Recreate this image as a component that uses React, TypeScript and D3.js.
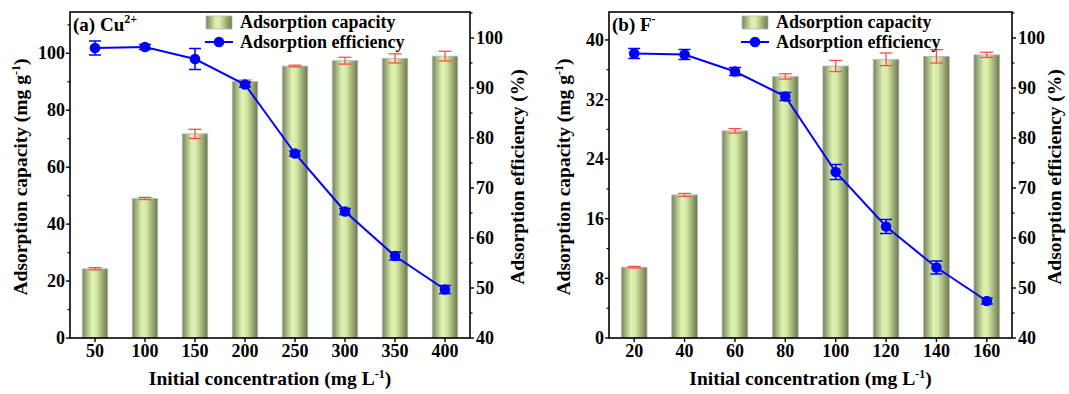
import React from 'react';
import * as d3 from 'd3';

// Cu2+ panel
const cuConcentrations = ['50', '100', '150', '200', '250', '300', '350', '400'];
const cuCapacity = [24.3, 49.0, 71.7, 90.1, 95.5, 97.4, 98.2, 99.0];
const cuCapacityErr = [0.4, 0.4, 1.6, 0.5, 0.3, 1.2, 1.6, 1.7];
const cuEfficiency = [98.0, 98.2, 95.8, 90.7, 76.9, 65.3, 56.4, 49.7];
const cuEfficiencyErr = [1.4, 0.5, 2.1, 0.5, 0.5, 0.6, 0.8, 0.8];
const cuCapacityTicks = [0, 20, 40, 60, 80, 100];

// F- panel
const fConcentrations = ['20', '40', '60', '80', '100', '120', '140', '160'];
const fCapacity = [9.5, 19.2, 27.8, 35.1, 36.5, 37.4, 37.8, 38.0];
const fCapacityErr = [0.1, 0.2, 0.3, 0.35, 0.75, 0.85, 0.9, 0.35];
const fEfficiency = [96.9, 96.7, 93.3, 88.3, 73.2, 62.3, 54.1, 47.4];
const fEfficiencyErr = [1.0, 1.0, 0.8, 0.8, 1.5, 1.4, 1.3, 0.6];
const fCapacityTicks = [0, 8, 16, 24, 32, 40];

const efficiencyTicks = [40, 50, 60, 70, 80, 90, 100];

const FONT = '"Liberation Serif", "Times New Roman", serif';
const TOP = 12;
const BOTTOM = 338;
const TICK_FS = 18;
const TITLE_FS = 19.5;
const LEGEND_FS = 18;

type PanelProps = {
  id: string;
  left: number;
  right: number;
  categories: string[];
  capacity: number[];
  capacityErr: number[];
  efficiency: number[];
  efficiencyErr: number[];
  capMax: number;
  capTicks: number[];
  label: string;
  sup: string;
  legendX: number;
  leftTitleX: number;
  rightTitleX: number;
};

function Panel(p: PanelProps) {
  const x = d3.scaleBand<string>().domain(p.categories).range([p.left, p.right]).paddingInner(0.49).paddingOuter(0.245);
  const yCap = d3.scaleLinear().domain([0, p.capMax]).range([BOTTOM, TOP]);
  const yEff = d3.scaleLinear().domain([40, 105.2]).range([BOTTOM, TOP]);
  const bw = x.bandwidth();
  const cx = (c: string) => (x(c) as number) + bw / 2;
  const step = p.capTicks[1] - p.capTicks[0];
  const capMinor = d3.range(step / 2, p.capMax, step);
  const effMinor = d3.range(45, 105.2, 10);
  const line = d3
    .line<number>()
    .x((_, i) => cx(p.categories[i]))
    .y((d) => yEff(d));
  const gradId = `barGrad-${p.id}`;
  const midY = 177;

  return (
    <g>
      <defs>
        <linearGradient id={gradId} x1="0" x2="1" y1="0" y2="0">
          <stop offset="0%" stopColor="#74845a" />
          <stop offset="38%" stopColor="#e0f2b2" />
          <stop offset="55%" stopColor="#d6e9a5" />
          <stop offset="100%" stopColor="#68784c" />
        </linearGradient>
      </defs>

      {/* bars */}
      {p.categories.map((c, i) => (
        <rect
          key={c}
          x={x(c)}
          y={yCap(p.capacity[i])}
          width={bw}
          height={BOTTOM - yCap(p.capacity[i])}
          fill={`url(#${gradId})`}
          stroke="#b8b8b8"
          strokeWidth={0.8}
        />
      ))}

      {/* capacity error bars */}
      {p.categories.map((c, i) => {
        const hi = yCap(p.capacity[i] + p.capacityErr[i]);
        const lo = yCap(p.capacity[i] - p.capacityErr[i]);
        const xc = cx(c);
        return (
          <g key={c} stroke="#ff4d4d" strokeWidth={1.3}>
            <line x1={xc} x2={xc} y1={hi} y2={lo} />
            <line x1={xc - 6.5} x2={xc + 6.5} y1={hi} y2={hi} />
            <line x1={xc - 6.5} x2={xc + 6.5} y1={lo} y2={lo} />
          </g>
        );
      })}

      {/* efficiency line */}
      <path d={line(p.efficiency) as string} fill="none" stroke="#0000ff" strokeWidth={2} />
      {p.categories.map((c, i) => {
        const hi = yEff(p.efficiency[i] + p.efficiencyErr[i]);
        const lo = yEff(p.efficiency[i] - p.efficiencyErr[i]);
        const xc = cx(c);
        return (
          <g key={c}>
            <g stroke="#0000ff" strokeWidth={1.5}>
              <line x1={xc} x2={xc} y1={hi} y2={lo} />
              <line x1={xc - 6} x2={xc + 6} y1={hi} y2={hi} />
              <line x1={xc - 6} x2={xc + 6} y1={lo} y2={lo} />
            </g>
            <circle cx={xc} cy={yEff(p.efficiency[i])} r={5.3} fill="#0000ff" />
          </g>
        );
      })}

      {/* frame */}
      <rect x={p.left} y={TOP} width={p.right - p.left} height={BOTTOM - TOP} fill="none" stroke="#000" strokeWidth={1.6} />

      {/* left axis */}
      {p.capTicks.map((t) => (
        <g key={t}>
          <line x1={p.left - 4} x2={p.left} y1={yCap(t)} y2={yCap(t)} stroke="#000" strokeWidth={1.4} />
          <text x={p.left - 5} y={yCap(t) + 6.2} textAnchor="end" fontSize={TICK_FS} fontWeight="bold" fontFamily={FONT}>
            {t}
          </text>
        </g>
      ))}
      {capMinor.map((t) => (
        <line key={t} x1={p.left - 2.5} x2={p.left} y1={yCap(t)} y2={yCap(t)} stroke="#000" strokeWidth={1.2} />
      ))}

      {/* right axis */}
      {efficiencyTicks.map((t) => (
        <g key={t}>
          <line x1={p.right} x2={p.right + 4} y1={yEff(t)} y2={yEff(t)} stroke="#000" strokeWidth={1.4} />
          <text x={p.right + 6} y={yEff(t) + 6.2} textAnchor="start" fontSize={TICK_FS} fontWeight="bold" fontFamily={FONT}>
            {t}
          </text>
        </g>
      ))}
      {effMinor.map((t) => (
        <line key={t} x1={p.right} x2={p.right + 2.5} y1={yEff(t)} y2={yEff(t)} stroke="#000" strokeWidth={1.2} />
      ))}

      {/* bottom axis */}
      {p.categories.map((c) => (
        <g key={c}>
          <line x1={cx(c)} x2={cx(c)} y1={BOTTOM} y2={BOTTOM + 4} stroke="#000" strokeWidth={1.4} />
          <text x={cx(c)} y={357} textAnchor="middle" fontSize={TICK_FS} fontWeight="bold" fontFamily={FONT}>
            {c}
          </text>
        </g>
      ))}

      {/* axis titles */}
      <text x={(p.left + p.right) / 2} y={385} textAnchor="middle" fontSize={TITLE_FS} fontWeight="bold" fontFamily={FONT}>
        Initial concentration (mg L<tspan dy={-7} fontSize={12}>-1</tspan>
        <tspan dy={7}>)</tspan>
      </text>
      <text
        transform={`translate(${p.leftTitleX},${midY}) rotate(-90)`}
        textAnchor="middle"
        fontSize={TITLE_FS}
        fontWeight="bold"
        fontFamily={FONT}
      >
        Adsorption capacity (mg g<tspan dy={-7} fontSize={12}>-1</tspan>
        <tspan dy={7}>)</tspan>
      </text>
      <text
        transform={`translate(${p.rightTitleX},${midY}) rotate(-90)`}
        textAnchor="middle"
        fontSize={TITLE_FS}
        fontWeight="bold"
        fontFamily={FONT}
      >
        Adsorption efficiency (%)
      </text>

      {/* panel label */}
      <text x={p.left + 3} y={31} fontSize={19} fontWeight="bold" fontFamily={FONT}>
        {p.label}
        <tspan dy={-8} fontSize={12}>{p.sup}</tspan>
      </text>

      {/* legend */}
      <rect x={p.legendX} y={16} width={26} height={13} fill={`url(#${gradId})`} stroke="#b8b8b8" strokeWidth={0.8} />
      <text x={p.legendX + 34} y={28} fontSize={LEGEND_FS} fontWeight="bold" fontFamily={FONT}>
        Adsorption capacity
      </text>
      <line x1={p.legendX - 1} x2={p.legendX + 27} y1={42} y2={42} stroke="#0000ff" strokeWidth={2} />
      <circle cx={p.legendX + 13} cy={42} r={5.3} fill="#0000ff" />
      <text x={p.legendX + 34} y={48} fontSize={LEGEND_FS} fontWeight="bold" fontFamily={FONT}>
        Adsorption efficiency
      </text>
    </g>
  );
}

export default function App() {
  return (
    <svg width={1069} height={394} style={{ position: 'absolute', left: 0, top: 0, background: '#fff' }}>
      <Panel
        id="cu"
        left={70}
        right={470}
        categories={cuConcentrations}
        capacity={cuCapacity}
        capacityErr={cuCapacityErr}
        efficiency={cuEfficiency}
        efficiencyErr={cuEfficiencyErr}
        capMax={114.5}
        capTicks={cuCapacityTicks}
        label="(a) Cu"
        sup="2+"
        legendX={206}
        leftTitleX={27}
        rightTitleX={524}
      />
      <Panel
        id="f"
        left={609}
        right={1012}
        categories={fConcentrations}
        capacity={fCapacity}
        capacityErr={fCapacityErr}
        efficiency={fEfficiency}
        efficiencyErr={fEfficiencyErr}
        capMax={43.75}
        capTicks={fCapacityTicks}
        label="(b) F"
        sup="-"
        legendX={742}
        leftTitleX={570}
        rightTitleX={1061}
      />
    </svg>
  );
}
